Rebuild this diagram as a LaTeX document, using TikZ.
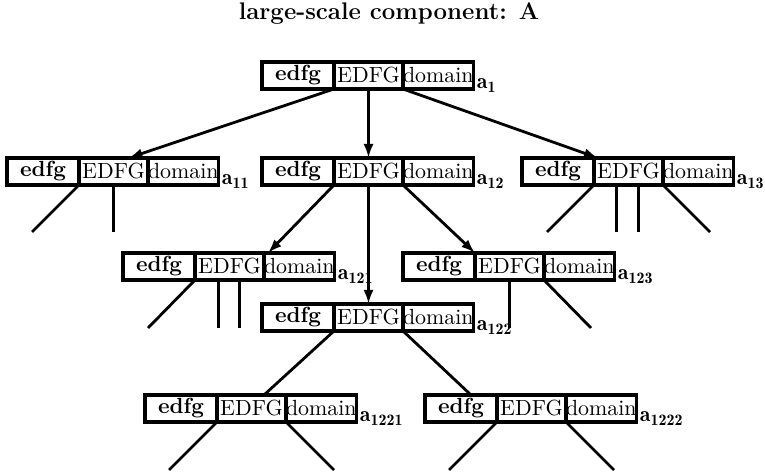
\documentclass[11pt,tikz,border=0pt]{standalone}
\usepackage{amsmath}
\usepackage{fontspec}
\usepackage{tikz}
\usetikzlibrary{arrows.meta,positioning}

\begin{document}
\begin{tikzpicture}[x=0.5pt, y=-0.5pt, >={Latex[length=7pt,width=5pt]},
  cell/.style={draw, line width=1.8pt, inner sep=0pt, outer sep=0pt, minimum height=13.5pt},
  key/.style={cell, minimum width=36pt, font=\bfseries},
  dfg/.style={cell, minimum width=34.5pt},
  dom/.style={cell, minimum width=35pt},
  lbl/.style={anchor=base west, inner sep=0pt},
  edge/.style={line width=1.4pt}]
  \useasboundingbox (0,0) rectangle (765,474);
  \node[font=\large\bfseries\addfontfeatures{LetterSpace=10}, anchor=base] (title) at (389,20)
      {large-scale component: A};
  \foreach \n/\x/\y/\s in {a1/262/62/1, a11/7/158/11, a12/262/158/12, a13/522/158/13,
      a121/123/253/121, a123/403/253/123, a122/262/304/122,
      a1221/145/395/1221, a1222/425/395/1222}{
    \node[key, anchor=north west] (\n e) at (\x,\y) {edfg};
    \node[dfg, right=0pt of \n e] (\n E) {EDFG};
    \node[dom, right=0pt of \n E] (\n d) {domain};
    \node[lbl] (\n l) at ([xshift=1.5pt]\n d.south east) {$\mathbf{a_{\s}}$};
  }
  \draw[edge,->] (a1E.south west) -- ([xshift=7.5pt]a11E.north);
  \draw[edge,->] (a1E.south) -- (a12E.north);
  \draw[edge,->] (a1E.south east) -- ([xshift=2pt]a13E.north west);
  \draw[edge,->] (a12E.south west) -- ([xshift=2pt]a121E.north east);
  \draw[edge,->] (a12E.south) -- (a122E.north);
  \draw[edge,->] (a12E.south east) -- (a123E.north west);
  \draw[edge] (a122E.south west) -- ([xshift=-11pt]a1221E.north east);
  \draw[edge] (a122E.south east) -- ([xshift=-13pt]a1222e.north east);
  % loose ends below the leaves
  \draw[edge] (a11E.south west) -- ++(-47,47);
  \draw[edge] (a11E.south) -- ++(0,47);
  \draw[edge] (a13E.south west) -- ++(-47,47);
  \draw[edge] ([xshift=-6pt]a13E.south) -- ++(0,47);
  \draw[edge] ([xshift=5pt]a13E.south) -- ++(0,47);
  \draw[edge] (a13E.south east) -- ++(47,47);
  \draw[edge] (a121E.south west) -- ++(-47,48);
  \draw[edge] ([xshift=-5.5pt]a121E.south) -- ++(0,48);
  \draw[edge] ([xshift=5pt]a121E.south) -- ++(0,48);
  \draw[edge] (a123E.south) -- ++(0,48);
  \draw[edge] (a123E.south east) -- ++(47,48);
  \draw[edge] (a1221E.south west) -- ++(-48,48);
  \draw[edge] (a1221E.south east) -- ++(48,48);
  \draw[edge] (a1222E.south west) -- ++(-48,48);
  \draw[edge] (a1222E.south east) -- ++(48,48);
\end{tikzpicture}
\end{document}
